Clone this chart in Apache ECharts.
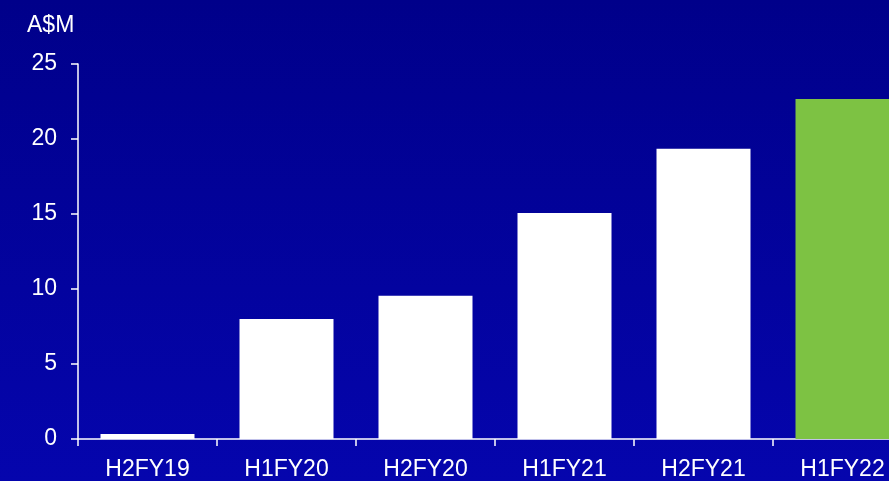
<!DOCTYPE html>
<html>
<head>
<meta charset="utf-8">
<script src="https://cdn.jsdelivr.net/npm/echarts@6/dist/echarts.min.js"></script>
<style>
  html, body { margin: 0; padding: 0; }
  #chart { width: 889px; height: 481px; }
</style>
</head>
<body>
<div id="chart"></div>
<script>
// Half-year periods and values (A$M)
const periods = ['H2FY19', 'H1FY20', 'H2FY20', 'H1FY21', 'H2FY21', 'H1FY22'];
const values = [0.33, 8.0, 9.55, 15.07, 19.35, 22.67];
const yTicks = { min: 0, max: 25, interval: 5 };
const unitLabel = 'A$M';

const WHITE = '#ffffff';
const GREEN = '#7dc243';
const FONT = '"Liberation Sans", Arial, sans-serif';

const chart = echarts.init(document.getElementById('chart'), null, { renderer: 'canvas' });

chart.setOption({
  animation: false,
  backgroundColor: {
    type: 'linear', x: 0, y: 0, x2: 0, y2: 1,
    colorStops: [
      { offset: 0, color: '#00008a' },
      { offset: 1, color: '#0505ad' }
    ]
  },
  title: {
    text: unitLabel,
    left: 22,
    top: 9,
    textStyle: { color: WHITE, fontFamily: FONT, fontSize: 23, fontWeight: 'normal' }
  },
  // the last category runs past the right edge of the canvas
  grid: { left: 78, top: 64, bottom: 42, width: 834, containLabel: false, outerBoundsMode: 'none' },
  xAxis: {
    type: 'category',
    data: periods,
    axisLine: { lineStyle: { color: WHITE, width: 1.5 } },
    axisTick: { show: true, length: 7, lineStyle: { color: WHITE, width: 1.5 } },
    axisLabel: { color: WHITE, fontFamily: FONT, fontSize: 23, margin: 19 },
    splitLine: { show: false }
  },
  yAxis: {
    type: 'value',
    min: yTicks.min,
    max: yTicks.max,
    interval: yTicks.interval,
    axisLine: { show: true, lineStyle: { color: WHITE, width: 1.5 } },
    axisTick: { show: true, length: 7, lineStyle: { color: WHITE, width: 1.5 } },
    axisLabel: { color: WHITE, fontFamily: FONT, fontSize: 23, margin: 21 },
    splitLine: { show: false }
  },
  series: [{
    type: 'bar',
    data: values.map((v, i) => ({
      value: v,
      itemStyle: { color: i === values.length - 1 ? GREEN : WHITE }
    })),
    barWidth: 94
  }]
});
</script>
</body>
</html>
